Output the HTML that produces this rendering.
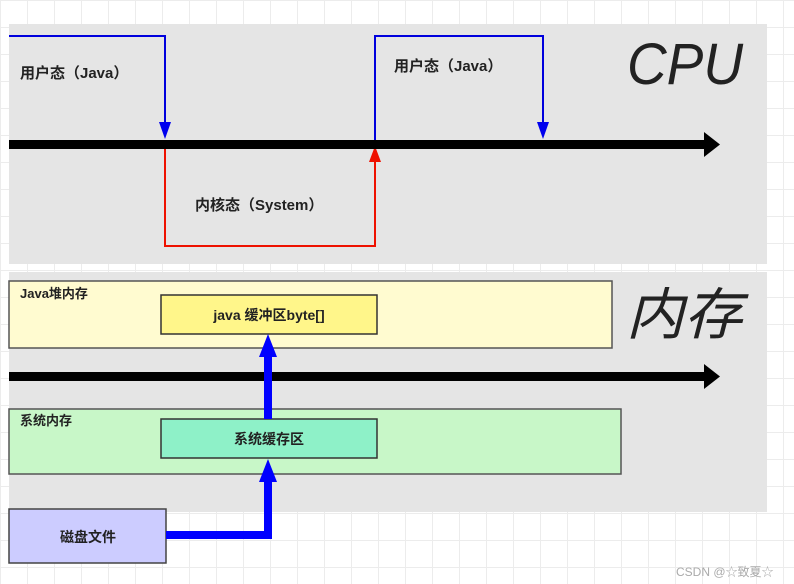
<!DOCTYPE html>
<html><head><meta charset="utf-8"><style>
body{margin:0;width:794px;height:584px;overflow:hidden;background:#fff;
background-image:linear-gradient(#ececec 1px,transparent 1px),linear-gradient(90deg,#ececec 1px,transparent 1px);background-size:27px 27px;}
</style></head><body>
<svg width="794" height="584" style="position:absolute;left:0;top:0" font-family="Liberation Sans, Noto Sans CJK SC, sans-serif">
<rect x="9" y="24" width="758" height="240" fill="#e5e5e5"/>
<rect x="9" y="272" width="758" height="240" fill="#e5e5e5"/>
<polyline points="9,36 165,36 165,128" fill="none" stroke="#0000dd" stroke-width="2"/>
<polygon points="159,122 171,122 165,139" fill="#0000ee"/>
<polyline points="375,144 375,36 543,36 543,128" fill="none" stroke="#0000dd" stroke-width="2"/>
<polygon points="537,122 549,122 543,139" fill="#0000ee"/>
<polyline points="165,149 165,246 375,246 375,160" fill="none" stroke="#ee1100" stroke-width="2"/>
<polygon points="369,162 381,162 375,146" fill="#ee1100"/>
<rect x="9" y="140" width="698" height="9" fill="#000"/>
<polygon points="704,132 720,144.5 704,157" fill="#000"/>
<text x="20" y="78" font-size="15" font-weight="bold" fill="#222">用户态（Java）</text>
<text x="394" y="71" font-size="15" font-weight="bold" fill="#222">用户态（Java）</text>
<text x="195" y="210" font-size="15" font-weight="bold" fill="#222">内核态（System）</text>
<text x="627" y="84" font-size="58" font-style="italic" fill="#222" textLength="116" lengthAdjust="spacingAndGlyphs">CPU</text>
<rect x="9" y="281" width="603" height="67" fill="#fffbd0" stroke="#555" stroke-width="1.5"/>
<rect x="161" y="295" width="216" height="39" fill="#fff68a" stroke="#333" stroke-width="1.5"/>
<text x="20" y="298" font-size="13" font-weight="bold" fill="#222">Java堆内存</text>
<text x="269" y="320" font-size="14" font-weight="bold" fill="#222" text-anchor="middle">java 缓冲区byte[]</text>
<rect x="9" y="409" width="612" height="65" fill="#c8f7c8" stroke="#555" stroke-width="1.5"/>
<rect x="161" y="419" width="216" height="39" fill="#8ef1c8" stroke="#333" stroke-width="1.5"/>
<text x="20" y="425" font-size="13" font-weight="bold" fill="#222">系统内存</text>
<text x="269" y="444" font-size="14" font-weight="bold" fill="#222" text-anchor="middle">系统缓存区</text>
<rect x="9" y="372" width="698" height="9" fill="#000"/>
<polygon points="704,364 720,376.5 704,389" fill="#000"/>
<rect x="9" y="509" width="157" height="54" fill="#ccccff" stroke="#444" stroke-width="1.5"/>
<text x="88" y="542" font-size="14" font-weight="bold" fill="#222" text-anchor="middle">磁盘文件</text>
<polyline points="166,535 268,535 268,475" fill="none" stroke="#0000ff" stroke-width="8"/>
<polygon points="259,482 277,482 268,459" fill="#0000ff"/>
<line x1="268" y1="419" x2="268" y2="350" stroke="#0000ff" stroke-width="8"/>
<polygon points="259,357 277,357 268,334" fill="#0000ff"/>
<text x="626" y="334" font-size="56" font-style="italic" fill="#222" textLength="116" lengthAdjust="spacingAndGlyphs">内存</text>
<text x="676" y="576" font-size="12" fill="#aaa">CSDN @☆致夏☆</text>
</svg>
</body></html>
